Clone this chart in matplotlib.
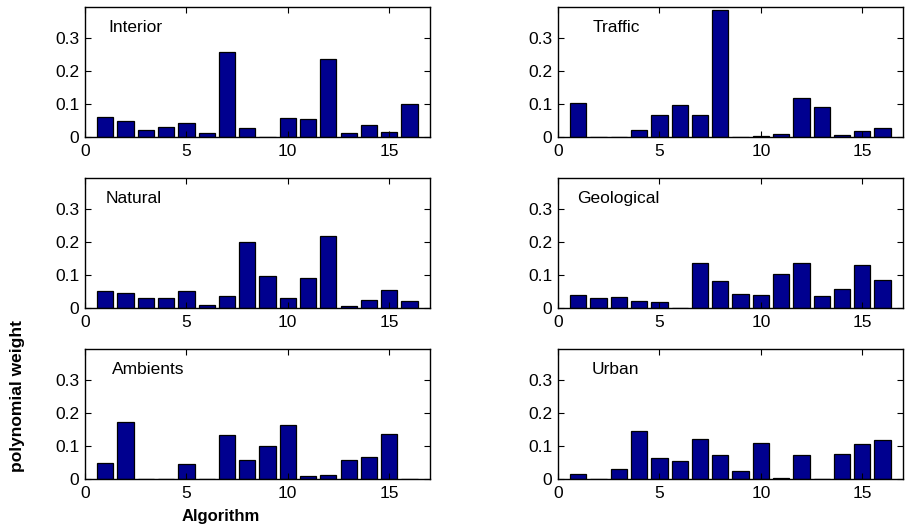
import matplotlib
matplotlib.use('Agg')
import matplotlib.pyplot as plt

plt.rcParams['font.family'] = ['Liberation Sans', 'DejaVu Sans']

algorithms = list(range(1, 17))

interior = [0.060, 0.049, 0.020, 0.030, 0.042, 0.011, 0.257, 0.026,
            0.0, 0.059, 0.056, 0.237, 0.012, 0.037, 0.014, 0.100]
traffic = [0.103, 0.0, 0.0, 0.021, 0.066, 0.098, 0.066, 0.387,
           0.0, 0.004, 0.009, 0.118, 0.091, 0.005, 0.017, 0.028]
natural = [0.051, 0.045, 0.029, 0.032, 0.051, 0.009, 0.037, 0.200,
           0.098, 0.029, 0.090, 0.219, 0.007, 0.025, 0.055, 0.020]
geological = [0.041, 0.029, 0.035, 0.020, 0.017, 0.001, 0.137, 0.082,
              0.042, 0.041, 0.104, 0.136, 0.038, 0.059, 0.131, 0.085]
ambients = [0.048, 0.173, 0.0, 0.001, 0.047, 0.0, 0.133, 0.057,
            0.100, 0.164, 0.010, 0.011, 0.057, 0.068, 0.138, 0.0]
urban = [0.014, 0.0, 0.029, 0.146, 0.063, 0.055, 0.123, 0.073,
         0.023, 0.108, 0.004, 0.074, 0.0, 0.077, 0.106, 0.117]

panels = [
    ('Interior', interior, 0.067),
    ('Traffic', traffic, 0.100),
    ('Natural', natural, 0.061),
    ('Geological', geological, 0.054),
    ('Ambients', ambients, 0.077),
    ('Urban', urban, 0.098),
]

fig = plt.figure(figsize=(9.05, 5.26), dpi=100)

lefts = [0.0939, 0.6166]
bottoms = [0.7395, 0.4144, 0.0894]
width, height = 0.381, 0.247

for i, (name, values, tx) in enumerate(panels):
    row, col = divmod(i, 2)
    ax = fig.add_axes([lefts[col], bottoms[row], width, height])
    ax.bar(algorithms, values, width=0.8, color='#00008F',
           edgecolor='black', linewidth=0.9)
    ax.set_xlim(0, 17)
    ax.set_ylim(0, 0.395)
    ax.set_xticks([0, 5, 10, 15])
    ax.set_yticks([0, 0.1, 0.2, 0.3])
    ax.set_yticklabels(['0', '0.1', '0.2', '0.3'])
    ax.tick_params(direction='in', top=True, right=True, length=4,
                   labelsize=12.5)
    ax.tick_params(axis='x', pad=5)
    ax.tick_params(axis='y', pad=4)
    for s in ax.spines.values():
        s.set_linewidth(1.0)
    ax.text(tx, 0.845, name, transform=ax.transAxes, fontsize=12.5,
            ha='left', va='center')

fig.text(0.019, 1 - 396 / 526, 'polynomial weight', rotation=90,
         fontsize=12.5, fontweight='bold', ha='center', va='center')
fig.text(221 / 905, 1 - 517 / 526, 'Algorithm', fontsize=12,
         fontweight='bold', ha='center', va='center')

fig.savefig('out.png', dpi=100)
